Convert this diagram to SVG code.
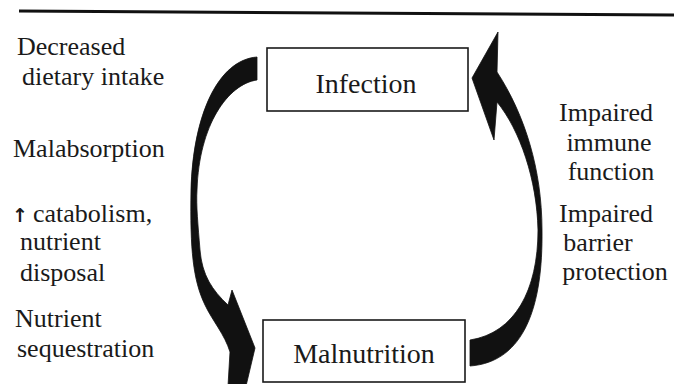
<svg xmlns="http://www.w3.org/2000/svg" width="674" height="384" viewBox="0 0 674 384">
<defs>
<style>
  .box { fill: #ffffff; stroke: #1a1a1a; stroke-width: 1.6; }
  .arrow { fill: #111111; stroke: #111111; stroke-width: 0.8; stroke-linejoin: round; }
</style>
</defs>
<rect width="674" height="384" fill="#ffffff"/>
<line x1="19" y1="11" x2="674" y2="15" stroke="#111111" stroke-width="3"/>

<g id="connectors">
  <path class="arrow" d="M 257,57 C 218,60 193,115 191,190 C 190,250 193,280 205,305 C 212,320 225,335 230,352 L 228,386 L 246,386 L 255,348 L 232,290 L 228,305 C 212,290 202,275 200,250 C 198,225 196,205 197,190 C 199,125 228,84 257,80 Z"/>
  <path class="arrow" d="M 470,340 L 470,366 C 525,362 543,305 542,230 C 542,170 525,115 497,72 L 498,32 L 472,78 L 494,140 L 497,102 C 520,130 537,180 538,230 C 538,290 515,333 470,340 Z"/>
</g>

<g id="infection">
  <rect class="box" x="267" y="48" width="201" height="63"/>
  <text x="366" y="93" font-family="Liberation Serif" font-size="28" fill="#1a1a1a" text-anchor="middle">Infection</text>
</g>

<g id="malnutrition">
  <rect class="box" x="263" y="320" width="202" height="62"/>
  <text x="364" y="363" font-family="Liberation Serif" font-size="28" fill="#1a1a1a" text-anchor="middle">Malnutrition</text>
</g>

<g id="label-decreased"><text x="17" y="55" font-family="Liberation Serif" font-size="26" fill="#1a1a1a" text-anchor="start">Decreased</text></g>
<g id="label-dietary"><text x="22" y="85" font-family="Liberation Serif" font-size="26" fill="#1a1a1a" text-anchor="start">dietary intake</text></g>
<g id="label-malabsorption"><text x="13" y="157" font-family="Liberation Serif" font-size="26" fill="#1a1a1a" text-anchor="start">Malabsorption</text></g>
<g id="label-catabolism"><text x="12" y="222" font-family="Liberation Serif" font-size="26" fill="#1a1a1a" text-anchor="start"><tspan font-family="DejaVu Sans" font-weight="bold" font-size="19">↑</tspan><tspan x="33">catabolism,</tspan></text></g>
<g id="label-nutrient"><text x="20" y="250" font-family="Liberation Serif" font-size="26" fill="#1a1a1a" text-anchor="start">nutrient</text></g>
<g id="label-disposal"><text x="20" y="281" font-family="Liberation Serif" font-size="26" fill="#1a1a1a" text-anchor="start">disposal</text></g>
<g id="label-nutrient2"><text x="15" y="327" font-family="Liberation Serif" font-size="26" fill="#1a1a1a" text-anchor="start">Nutrient</text></g>
<g id="label-sequestration"><text x="17" y="357" font-family="Liberation Serif" font-size="26" fill="#1a1a1a" text-anchor="start">sequestration</text></g>

<g id="right-labels" font-family="Liberation Serif" font-size="26" fill="#1a1a1a" text-anchor="middle">
  <text x="606" y="121">Impaired</text>
  <text x="609" y="151">immune</text>
  <text x="611" y="180">function</text>
  <text x="606" y="222">Impaired</text>
  <text x="598" y="251">barrier</text>
  <text x="615" y="280">protection</text>
</g>
</svg>
